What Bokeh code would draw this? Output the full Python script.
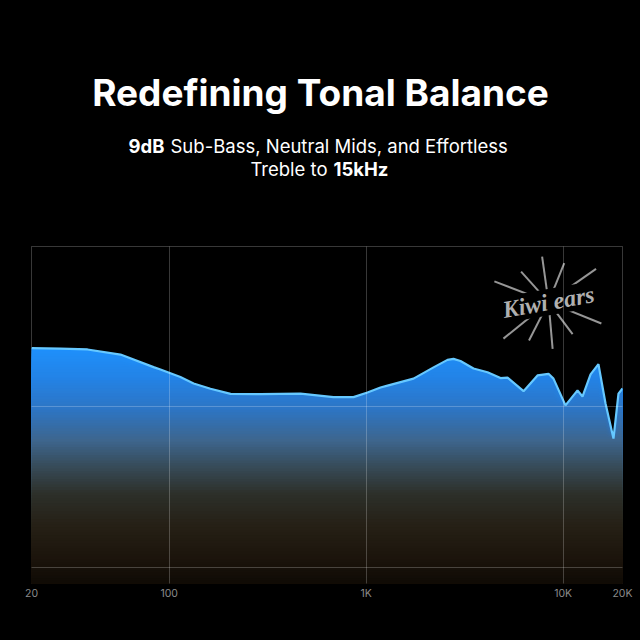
import numpy as np
from bokeh.plotting import figure
from bokeh.layouts import column
from bokeh.models import Range1d, FixedTicker, Grid
from bokeh.core.properties import value
from bokeh.embed import file_html
from bokeh.resources import INLINE

# ---------------- data ----------------
title_text = "Redefining Tonal Balance"
sub1_bold = "9dB"
sub1_rest = "Sub-Bass, Neutral Mids, and Effortless"
sub2_rest = "Treble to"
sub2_bold = "15kHz"

freq_hz = [20, 28, 38.5, 56.6, 83.3, 90.3, 114, 133, 162, 205, 291, 464, 682, 862,
           1015, 1182, 1283, 1738, 2197, 2586, 2775, 3010, 3505, 4128, 4806, 5216,
           6290, 7405, 8424, 8926, 10270, 11820, 12530, 13770, 15100, 16400, 18000,
           19080, 20000]
level_db = [71.0, 70.9, 70.75, 69.8, 67.45, 67.0, 65.6, 64.4, 63.4, 62.45, 62.4, 62.5,
            61.85, 61.85, 62.7, 63.65, 64.0, 65.3, 67.4, 68.8, 69.0, 68.6, 67.2, 66.5,
            65.4, 65.5, 62.95, 65.9, 66.2, 65.3, 60.3, 63.1, 61.95, 66.1, 68.0, 60.65,
            54.1, 62.5, 63.45]

tick_hz = [20, 100, 1000, 10000, 20000]
tick_labels = ["20", "100", "1K", "10K", "20K"]
grid_hz = [100, 1000, 10000]
grid_db = [30, 60]

logo_text = "Kiwi ears"
logo_hz = [8424]
logo_db = [79.6]
ray_angles_deg = [98, 68, 35, 5, 132, 159, 175, -22, -53, -85, -117, -141]
ray_lengths_px = [46, 42, 58, 46, 41, 58, 40, 57, 40, 47, 43, 58]

# gradient stops (dB level -> colour)
grad_db = [27, 32, 38, 44, 49, 54, 60, 66, 72]
grad_r = [15, 28, 38, 45, 55, 62, 45, 35, 30]
grad_g = [10, 20, 32, 48, 75, 102, 118, 132, 146]
grad_b = [5, 12, 22, 42, 88, 142, 198, 232, 255]

W = 640

# ---------------- header ----------------
hdr = figure(width=W, height=236, x_range=Range1d(31, 622), y_range=Range1d(236, 0),
             output_backend="svg", toolbar_location=None,
             x_axis_location=None, y_axis_location=None,
             min_border_left=31, min_border_right=18, min_border_top=0,
             min_border_bottom=0,
             background_fill_color="black", border_fill_color="black",
             outline_line_color=None)
hdr.grid.visible = False

hdr.text(x=[320], y=[92], text=[title_text], text_align="center",
         text_baseline="alphabetic", text_color="white",
         text_font=value("Inter"), text_font_style="bold", text_font_size="37px")
hdr.text(x=[164], y=[145], text=[sub1_bold], text_align="right",
         text_baseline="alphabetic", text_color="white",
         text_font=value("Inter"), text_font_style="bold", text_font_size="18.5px")
hdr.text(x=[170], y=[145], text=[sub1_rest], text_align="left",
         text_baseline="alphabetic", text_color="white",
         text_font=value("Inter"), text_font_size="18.5px")
hdr.text(x=[327], y=[168], text=[sub2_rest], text_align="right",
         text_baseline="alphabetic", text_color="white",
         text_font=value("Inter"), text_font_size="18.5px")
hdr.text(x=[333], y=[168], text=[sub2_bold], text_align="left",
         text_baseline="alphabetic", text_color="white",
         text_font=value("Inter"), text_font_style="bold", text_font_size="18.5px")

# ---------------- chart ----------------
p = figure(width=W, height=374, x_axis_type="log",
           x_range=Range1d(20, 20000), y_range=Range1d(27, 90),
           output_backend="svg", toolbar_location=None, y_axis_location=None,
           min_border_left=31, min_border_right=18, min_border_top=10,
           min_border_bottom=27,
           background_fill_color="black", border_fill_color="black",
           outline_line_color="white", outline_line_alpha=0.22)
p.grid.visible = False

freq = np.array(freq_hz, dtype=float)
lvl = np.array(level_db, dtype=float)

tops = np.arange(72.0, 27.0, -0.5)
for t in tops:
    r = int(np.interp(t, grad_db, grad_r))
    g = int(np.interp(t, grad_db, grad_g))
    b = int(np.interp(t, grad_db, grad_b))
    p.varea(x=freq, y1=np.full_like(freq, 27.0), y2=np.minimum(lvl, t),
            fill_color=(r, g, b))

p.line(freq, lvl, line_color="#66c8ff", line_width=2.2)

gx = Grid(dimension=0, ticker=FixedTicker(ticks=grid_hz), grid_line_color="white",
          grid_line_alpha=0.22, level="overlay")
gy = Grid(dimension=1, ticker=FixedTicker(ticks=grid_db), grid_line_color="white",
          grid_line_alpha=0.22, level="overlay")
p.add_layout(gx)
p.add_layout(gy)

# logo
p.ray(x=logo_hz * len(ray_angles_deg), y=logo_db * len(ray_angles_deg),
      length=ray_lengths_px, angle=ray_angles_deg, angle_units="deg",
      length_units="screen", line_color="#969696", line_width=2)
p.text(x=logo_hz, y=logo_db, text=[logo_text], text_align="center",
       text_baseline="middle", angle=10, angle_units="deg",
       text_color="#b0b0b0", text_font=value("Liberation Serif"),
       text_font_style="bold italic", text_font_size="24px",
       background_fill_color="black", padding=0)

ax = p.xaxis[0]
ax.ticker = FixedTicker(ticks=tick_hz)
ax.major_label_overrides = dict(zip(tick_hz, tick_labels))
ax.axis_line_color = None
ax.major_tick_line_color = None
ax.minor_tick_line_color = None
ax.major_tick_out = 0
ax.major_tick_in = 0
ax.minor_tick_out = 0
ax.minor_tick_in = 0
ax.major_label_text_color = "#8a8a8a"
ax.major_label_text_font = "Inter"
ax.major_label_text_font_size = "10.5px"
ax.major_label_standoff = 3

layout = column(hdr, p, spacing=0)
html = file_html(layout, INLINE)
html = html.replace("<head>", "<head><style>html,body{background:#000;}</style>", 1)
open("out.html", "w").write(html)
